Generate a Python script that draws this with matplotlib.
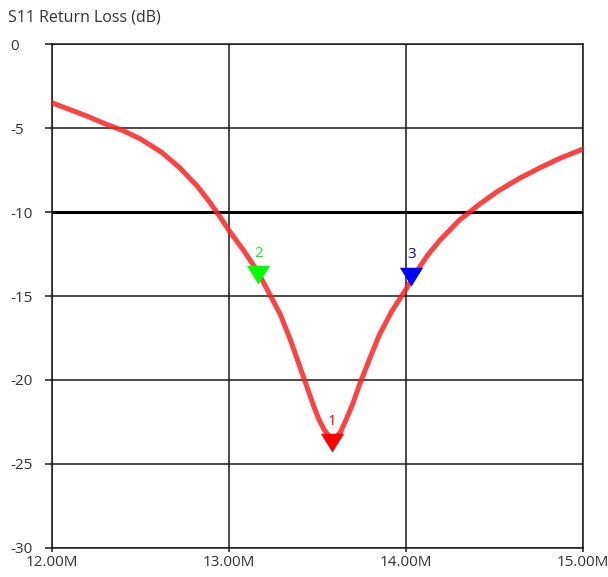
import numpy as np
import matplotlib.pyplot as plt
from matplotlib.path import Path

plt.rcParams['font.family'] = ['Open Sans', 'DejaVu Sans']

# S11 trace (MHz, dB)
freq = [12.00, 12.10, 12.20, 12.30, 12.40, 12.50, 12.62, 12.72, 12.82, 12.89, 12.95, 13.00, 13.08,
        13.16, 13.22, 13.29, 13.35, 13.40, 13.45, 13.48, 13.51, 13.54, 13.57, 13.60, 13.63, 13.66,
        13.70, 13.74, 13.80, 13.85, 13.92, 14.00, 14.05, 14.12, 14.19, 14.30, 14.42, 14.52,
        14.64, 14.76, 14.87, 15.00]
s11 = [-3.5, -3.9, -4.3, -4.75, -5.15, -5.65, -6.45, -7.35, -8.45, -9.4, -10.3, -11.1, -12.25,
       -13.5, -14.7, -16.1, -17.7, -19.2, -20.7, -21.6, -22.4, -23.0, -23.4, -23.45, -23.1, -22.4,
       -21.4, -20.2, -18.6, -17.3, -15.9, -14.6, -13.7, -12.6, -11.7, -10.5, -9.5, -8.75,
       -8.0, -7.35, -6.8, -6.25]

# markers: number, frequency, level, colour
mk_num = ['1', '2', '3']
mk_freq = [13.58, 13.165, 14.03]
mk_db = [-24.3, -14.3, -14.4]
mk_col = ['#ff0000', '#00ff00', '#0000ff']

fig = plt.figure(figsize=(6.08, 5.77), dpi=100)
ax = fig.add_axes([0.0855, 0.0503, 0.8734, 0.8734])

ax.plot(freq, s11, color='#ff2020', alpha=0.85, lw=3.6, solid_capstyle='round', zorder=3)

# triangle with its tip at the data point
tri = Path([(0, 0), (-0.62, 1), (0.62, 1), (0, 0)],
           [Path.MOVETO, Path.LINETO, Path.LINETO, Path.CLOSEPOLY])
for n, f, d, c in zip(mk_num, mk_freq, mk_db, mk_col):
    ax.plot(f, d, marker=tri, markersize=27, color=c, markeredgewidth=0, zorder=4)
    ax.text(f, d + 1.4, n, color=c, ha='center', va='bottom', fontsize=11, zorder=5)

ax.axhline(-10, color='black', lw=2.2, zorder=2)

ax.set_xlim(12, 15)
ax.set_ylim(-30, 0)
ax.set_xticks([12, 13, 14, 15])
ax.set_xticklabels(['12.00M', '13.00M', '14.00M', '15.00M'])
ax.set_yticks([0, -5, -10, -15, -20, -25, -30])
ax.set_yticklabels(['0', '-5', '-10', '-15', '-20', '-25', '-30'])
ax.grid(True, color='#1a1a1a', lw=1.1)
for s in ax.spines.values():
    s.set_color('#1a1a1a')
    s.set_linewidth(1.1)
ax.tick_params(axis='y', length=5, width=1.1, color='#1a1a1a', pad=25, labelsize=11, labelcolor='#333333')
ax.tick_params(axis='x', length=3, width=1.1, color='#1a1a1a', pad=2, labelsize=11, labelcolor='#333333')
for lab in ax.get_yticklabels():
    lab.set_horizontalalignment('left')

fig.text(8 / 608, 1 - 18 / 577, 'S11 Return Loss (dB)', fontsize=11.5, color='#333333', va='center', ha='left')

fig.savefig('out.png', dpi=100)
